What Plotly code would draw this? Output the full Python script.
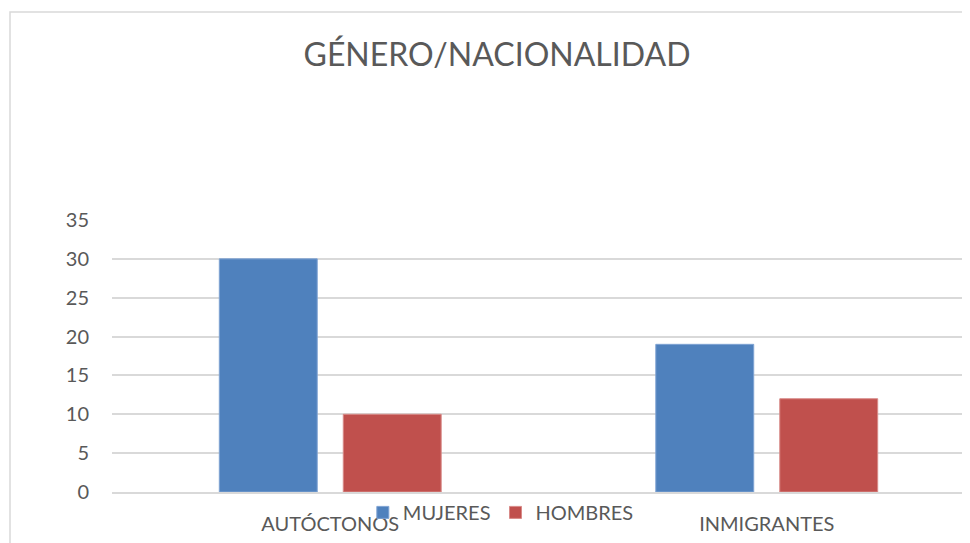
import plotly.graph_objects as go

# data
categorias = ["AUTÓCTONOS", "INMIGRANTES"]
mujeres = [30, 19]
hombres = [10, 12]
ticks_y = [0, 5, 10, 15, 20, 25, 30, 35]

fig = go.Figure()
fig.add_trace(go.Bar(x=categorias, y=mujeres, name="MUJERES",
                     marker=dict(color="#4F81BD", line=dict(color="#7FA3D3", width=1))))
fig.add_trace(go.Bar(x=categorias, y=hombres, name="HOMBRES",
                     marker=dict(color="#C0504D", line=dict(color="#D88A88", width=1))))

# page body adds an 8px margin; the plot runs off the right edge of the window
W, H = 970, 535
L, T, B = 104, 212, 51
PW = W - L  # plot width in px
px_per_cat = 436.5

fig.update_layout(
    width=W, height=H,
    margin=dict(l=L, r=0, t=T, b=B),
    paper_bgcolor="white", plot_bgcolor="white",
    font=dict(family="Lato, Open Sans, sans-serif", color="#595959", size=20),
    title=dict(text="GÉNERO/NACIONALIDAD", x=(497 - 8) / W, xanchor="center", xref="container",
               y=1 - 47 / H, yanchor="middle",
               font=dict(size=32, color="#595959", family="Lato, Open Sans, sans-serif")),
    barmode="group", bargap=0.432, bargroupgap=0.21,
    legend=dict(orientation="h", x=0.449, xanchor="center", y=-0.075,
                yanchor="middle", bgcolor="rgba(0,0,0,0)",
                font=dict(size=20, color="#595959"), itemwidth=30, tracegroupgap=0),
    showlegend=True,
)
fig.update_xaxes(range=[-0.5, -0.5 + PW / px_per_cat], showgrid=False, showline=True,
                 linecolor="#D9D9D9", linewidth=1.5, ticks="outside", ticklen=13,
                 tickcolor="rgba(0,0,0,0)", tickfont=dict(size=20, color="#595959"))
fig.update_yaxes(range=[0, 35], tickvals=ticks_y, showgrid=True, gridcolor="#D9D9D9",
                 gridwidth=1.5, zeroline=False, showline=False, ticks="outside",
                 ticklen=18, tickcolor="rgba(0,0,0,0)",
                 tickfont=dict(size=20, color="#595959"))

# chart border (extends beyond the visible area on the right and bottom)
fig.add_shape(type="rect", xref="paper", yref="paper",
              x0=(2 - L) / PW, x1=1.2, y0=-0.5, y1=(484 - 4) / 272,
              line=dict(color="#D9D9D9", width=1.5), fillcolor="rgba(0,0,0,0)", layer="below")

fig.write_html("out.html")
